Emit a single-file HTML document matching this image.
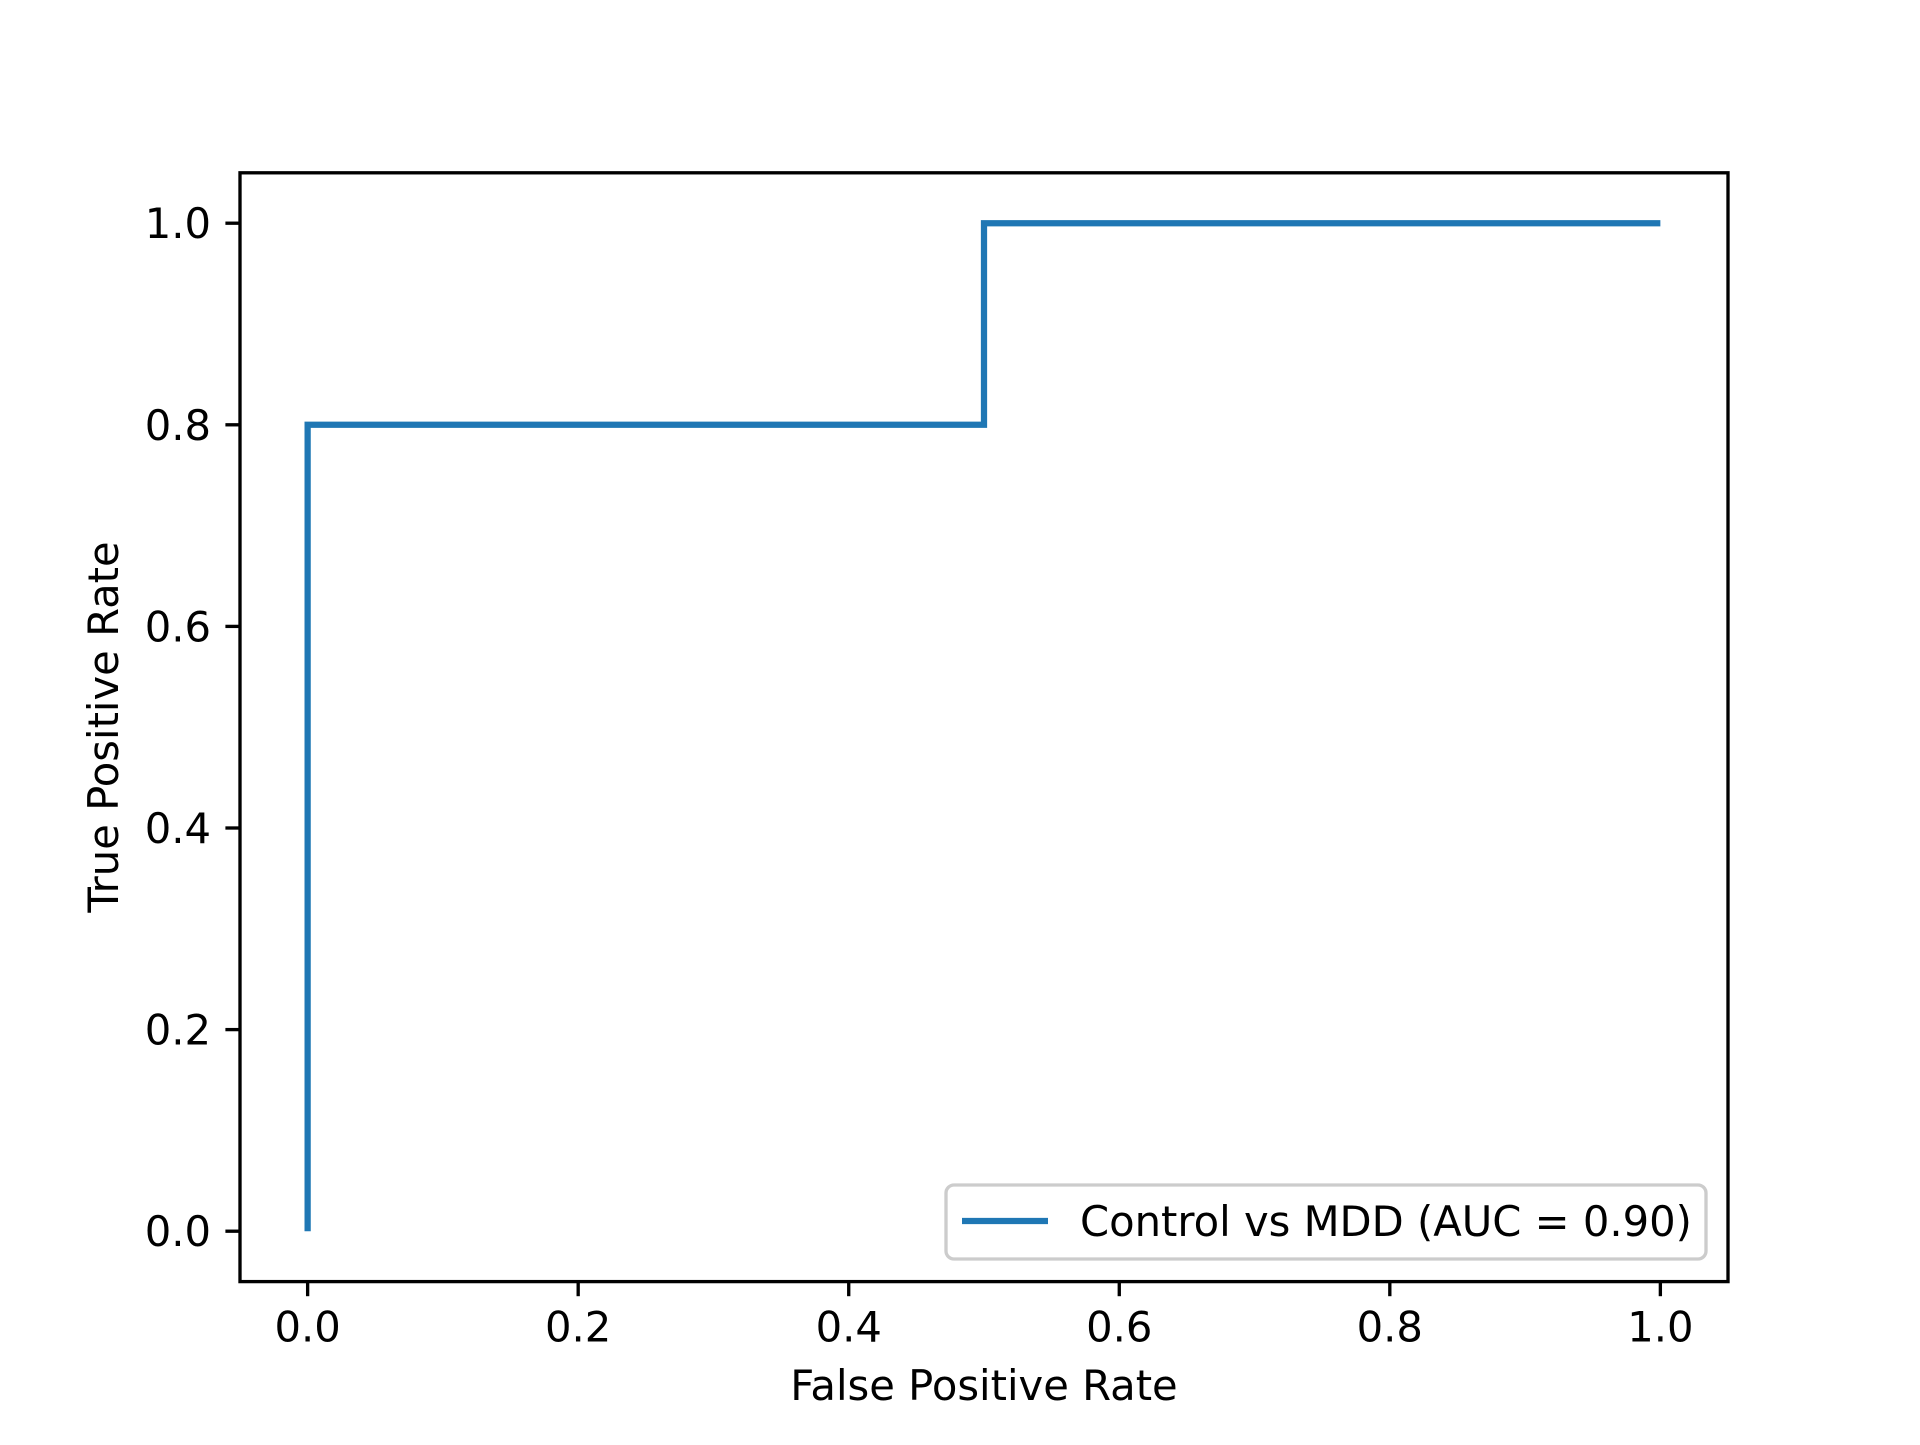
<!DOCTYPE html>
<html><head><meta charset="utf-8"><style>
html,body{margin:0;padding:0;background:#fff;}
svg text{font-family:"DejaVu Sans","Liberation Sans",sans-serif;fill:#000;}
</style></head><body>
<svg id="chart" width="1920" height="1440" viewBox="0 0 1920 1440" xmlns="http://www.w3.org/2000/svg">
<rect width="1920" height="1440" fill="#fff"/>
<g id="ticks"></g>
<g id="series"></g>
<rect x="240" y="172.8" width="1488" height="1108.8" fill="none" stroke="#000" stroke-width="3.33"/>
<text x="984" y="1400" font-size="41.7" text-anchor="middle">False Positive Rate</text>
<text transform="translate(118,727) rotate(-90)" font-size="41.7" text-anchor="middle">True Positive Rate</text>
<g>
<rect x="946" y="1185" width="760" height="74" rx="8" fill="#fff" fill-opacity="0.8" stroke="#ccc" stroke-width="3.33"/>
<line x1="962" y1="1221" x2="1048" y2="1221" stroke="#1f77b4" stroke-width="6.25"/>
<text x="1080" y="1236" font-size="41.7">Control vs MDD (AUC = 0.90)</text>
</g>
</svg>
<script>
const fpr = [0, 0, 0.5, 0.5, 1.0];
const tpr = [0, 0.8, 0.8, 1.0, 1.0];
const xTicks = [0, 0.2, 0.4, 0.6, 0.8, 1.0];
const yTicks = [0, 0.2, 0.4, 0.6, 0.8, 1.0];
const NS = "http://www.w3.org/2000/svg";
const L = 240, R = 1728, T = 172.8, B = 1281.6;
function sx(v){ return L + (v + 0.05) / 1.1 * (R - L); }
function sy(v){ return B - (v + 0.05) / 1.1 * (B - T); }
const tg = document.getElementById('ticks');
xTicks.forEach(v => {
  const l = document.createElementNS(NS, 'line');
  l.setAttribute('x1', sx(v)); l.setAttribute('x2', sx(v));
  l.setAttribute('y1', B); l.setAttribute('y2', B + 14.6);
  l.setAttribute('stroke', '#000'); l.setAttribute('stroke-width', '3.33');
  
  
  tg.appendChild(l);
  const t = document.createElementNS(NS, 'text');
  t.setAttribute('x', sx(v)); t.setAttribute('y', B + 60);
  t.setAttribute('font-size', '41.7'); t.setAttribute('text-anchor', 'middle');
  t.textContent = v.toFixed(1);
  
  
  tg.appendChild(t);
});
yTicks.forEach(v => {
  const l = document.createElementNS(NS, 'line');
  l.setAttribute('x1', L - 14.6); l.setAttribute('x2', L);
  l.setAttribute('y1', sy(v)); l.setAttribute('y2', sy(v));
  l.setAttribute('stroke', '#000'); l.setAttribute('stroke-width', '3.33');
  
  
  tg.appendChild(l);
  const t = document.createElementNS(NS, 'text');
  t.setAttribute('x', L - 29); t.setAttribute('y', sy(v) + 15);
  t.setAttribute('font-size', '41.7'); t.setAttribute('text-anchor', 'end');
  t.textContent = v.toFixed(1);
  
  
  tg.appendChild(t);
});
const p = document.createElementNS(NS, 'polyline');
p.setAttribute('points', fpr.map((x, i) => sx(x) + ',' + sy(tpr[i])).join(' '));
p.setAttribute('fill', 'none'); p.setAttribute('stroke', '#1f77b4');
p.setAttribute('stroke-width', '6.25'); p.setAttribute('stroke-linejoin', 'miter');


document.getElementById('series').appendChild(p);
</script>
</body></html>
